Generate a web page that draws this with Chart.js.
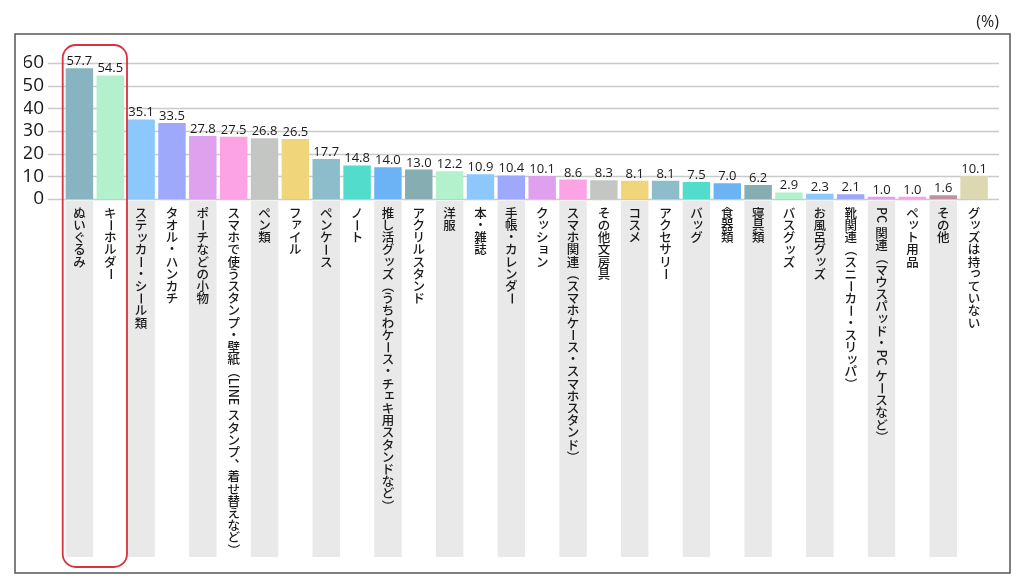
<!DOCTYPE html>
<html lang="ja">
<head>
<meta charset="utf-8">
<title>持っているグッズ</title>
<script src="https://cdn.jsdelivr.net/npm/chart.js@4.4.1/dist/chart.umd.min.js"></script>
<style>
  html, body { margin: 0; padding: 0; background: #fff; }
  #wrap { width: 1024px; height: 588px; }
</style>
</head>
<body>
<div id="wrap"><canvas id="chart" width="1024" height="588"></canvas></div>
<script>
// categories and values (%)
const categories = [
  'ぬいぐるみ', 'キーホルダー', 'ステッカー・シール類', 'タオル・ハンカチ', 'ポーチなどの小物',
  'スマホで使うスタンプ・壁紙（LINE スタンプ、着せ替えなど）', 'ペン類', 'ファイル', 'ペンケース', 'ノート',
  '推し活グッズ（うちわケース・チェキ用スタンドなど）', 'アクリルスタンド', '洋服', '本・雑誌', '手帳・カレンダー',
  'クッション', 'スマホ関連（スマホケース・スマホスタンド）', 'その他文房具', 'コスメ', 'アクセサリー',
  'バッグ', '食器類', '寝具類', 'バスグッズ', 'お風呂グッズ',
  '靴関連（スニーカー・スリッパ）', 'PC 関連（マウスパッド・PC ケースなど）', 'ペット用品', 'その他', 'グッズは持っていない'
];
const values = [
  57.7, 54.5, 35.1, 33.5, 27.8, 27.5, 26.8, 26.5, 17.7, 14.8,
  14.0, 13.0, 12.2, 10.9, 10.4, 10.1, 8.6, 8.3, 8.1, 8.1,
  7.5, 7.0, 6.2, 2.9, 2.3, 2.1, 1.0, 1.0, 1.6, 10.1
];
const barColors = [
  '#88b3c0', '#b3f0cc', '#8cc8fc', '#9ea9fb', '#dfa1ee', '#fba3e4', '#c4c6c4', '#f1d57a', '#8dbdca', '#52dccb',
  '#6bb3f5', '#86adb2', '#b3f0cc', '#8cc8fc', '#9ea9fb', '#dfa1ee', '#fba3e4', '#c4c6c4', '#f1d57a', '#8dbdca',
  '#52dccb', '#6bb3f5', '#86adb2', '#b3f0cc', '#8cc8fc', '#9ea9fb', '#dfa1ee', '#fba3e4', '#c4909f', '#dcd8b2'
];
const yTicks = [0, 10, 20, 30, 40, 50, 60];
const unitLabel = '(%)';
const highlighted = [0, 1];

const SMALL_KANA = 'ァィゥェォッャュョヮぁぃぅぇぉっゃゅょゎ';
const ROTATED = 'ー（）〜';
const COMMAS = '、。';

// draw one label top to bottom, one character at a time
function drawVertical(ctx, text, cx, top, step) {
  let y = top;
  let i = 0;
  while (i < text.length) {
    const ch = text[i];
    if (/[A-Za-z0-9]/.test(ch)) {
      let j = i;
      while (j < text.length && /[A-Za-z0-9]/.test(text[j])) j++;
      const run = text.slice(i, j);
      const w = ctx.measureText(run).width;
      ctx.save();
      ctx.translate(cx, y);
      ctx.rotate(Math.PI / 2);
      ctx.textAlign = 'left';
      ctx.fillText(run, 0, 0);
      ctx.restore();
      y += w;
      i = j;
      continue;
    }
    if (ch === ' ') { y += step * 0.35; i++; continue; }
    const my = y + step / 2;
    if (ROTATED.includes(ch)) {
      ctx.save();
      ctx.translate(cx, my);
      ctx.rotate(Math.PI / 2);
      ctx.fillText(ch, 0, 0);
      ctx.restore();
    } else if (SMALL_KANA.includes(ch)) {
      ctx.fillText(ch, cx + step * 0.12, my - step * 0.14);
    } else if (COMMAS.includes(ch)) {
      ctx.fillText(ch, cx + step * 0.58, my - step * 0.58);
    } else {
      ctx.fillText(ch, cx, my);
    }
    y += step;
    i++;
  }
}

const decor = {
  id: 'decor',
  beforeDatasetsDraw(chart) {
    const ctx = chart.ctx;
    const ys = chart.scales.y;
    const bars = chart.getDatasetMeta(0).data;
    ctx.save();
    // horizontal grid lines, a bit wider than the plot
    ctx.strokeStyle = '#cacaca';
    ctx.lineWidth = 1.5;
    yTicks.forEach(v => {
      const y = Math.round(ys.getPixelForValue(v)) + 0.5;
      ctx.beginPath();
      ctx.moveTo(48, y);
      ctx.lineTo(999, y);
      ctx.stroke();
    });
    // grey strips behind every other label
    ctx.fillStyle = '#e9e9e9';
    bars.forEach((b, i) => {
      if (i % 2 === 0) ctx.fillRect(b.x - b.width / 2, ys.bottom + 2, b.width, 557 - ys.bottom - 2);
    });
    ctx.restore();
  },
  afterDatasetsDraw(chart) {
    const ctx = chart.ctx;
    const ys = chart.scales.y;
    const bars = chart.getDatasetMeta(0).data;
    ctx.save();
    // value labels
    ctx.fillStyle = '#1a1a1a';
    ctx.font = '500 13px "Open Sans", "Noto Sans", sans-serif';
    ctx.textAlign = 'center';
    ctx.textBaseline = 'alphabetic';
    bars.forEach((b, i) => ctx.fillText(values[i].toFixed(1), b.x, b.y - 3));
    // category labels
    ctx.font = '500 12.5px "Noto Sans CJK JP", sans-serif';
    ctx.textAlign = 'center';
    ctx.textBaseline = 'middle';
    bars.forEach((b, i) => drawVertical(ctx, categories[i], b.x, ys.bottom + 8, 12.2));
    // red box round the top two
    const a = bars[highlighted[0]], z = bars[highlighted[highlighted.length - 1]];
    ctx.strokeStyle = '#d9323e';
    ctx.lineWidth = 1.8;
    ctx.beginPath();
    ctx.roundRect(a.x - a.width / 2 - 3, 45, (z.x + z.width / 2 + 3) - (a.x - a.width / 2 - 3), 522, 13);
    ctx.stroke();
    // frame and unit
    ctx.strokeStyle = '#555';
    ctx.lineWidth = 1.5;
    ctx.strokeRect(15, 34, 995, 539);
    ctx.fillStyle = '#222';
    ctx.font = '16px "Open Sans", "Noto Sans", sans-serif';
    ctx.textAlign = 'right';
    ctx.textBaseline = 'middle';
    ctx.fillText(unitLabel, 999, 22);
    ctx.restore();
  }
};

new Chart(document.getElementById('chart'), {
  type: 'bar',
  data: {
    labels: categories,
    datasets: [{
      data: values,
      backgroundColor: barColors,
      borderWidth: 0,
      barPercentage: 0.89,
      categoryPercentage: 1
    }]
  },
  options: {
    responsive: false,
    animation: false,
    devicePixelRatio: 1,
    layout: { padding: { left: 24, right: 34.5, top: 63, bottom: 389 } },
    plugins: { legend: { display: false }, tooltip: { enabled: false } },
    scales: {
      x: { display: false },
      y: {
        min: 0,
        max: 60,
        afterFit(s) { s.width = 40; },
        grid: { display: false, drawTicks: false },
        border: { display: false },
        ticks: {
          stepSize: 10,
          autoSkip: false,
          padding: 20,
          color: '#1a1a1a',
          font: { family: '"Open Sans", "Noto Sans", sans-serif', size: 19, weight: '500' }
        }
      }
    }
  },
  plugins: [decor]
});
</script>
</body>
</html>
